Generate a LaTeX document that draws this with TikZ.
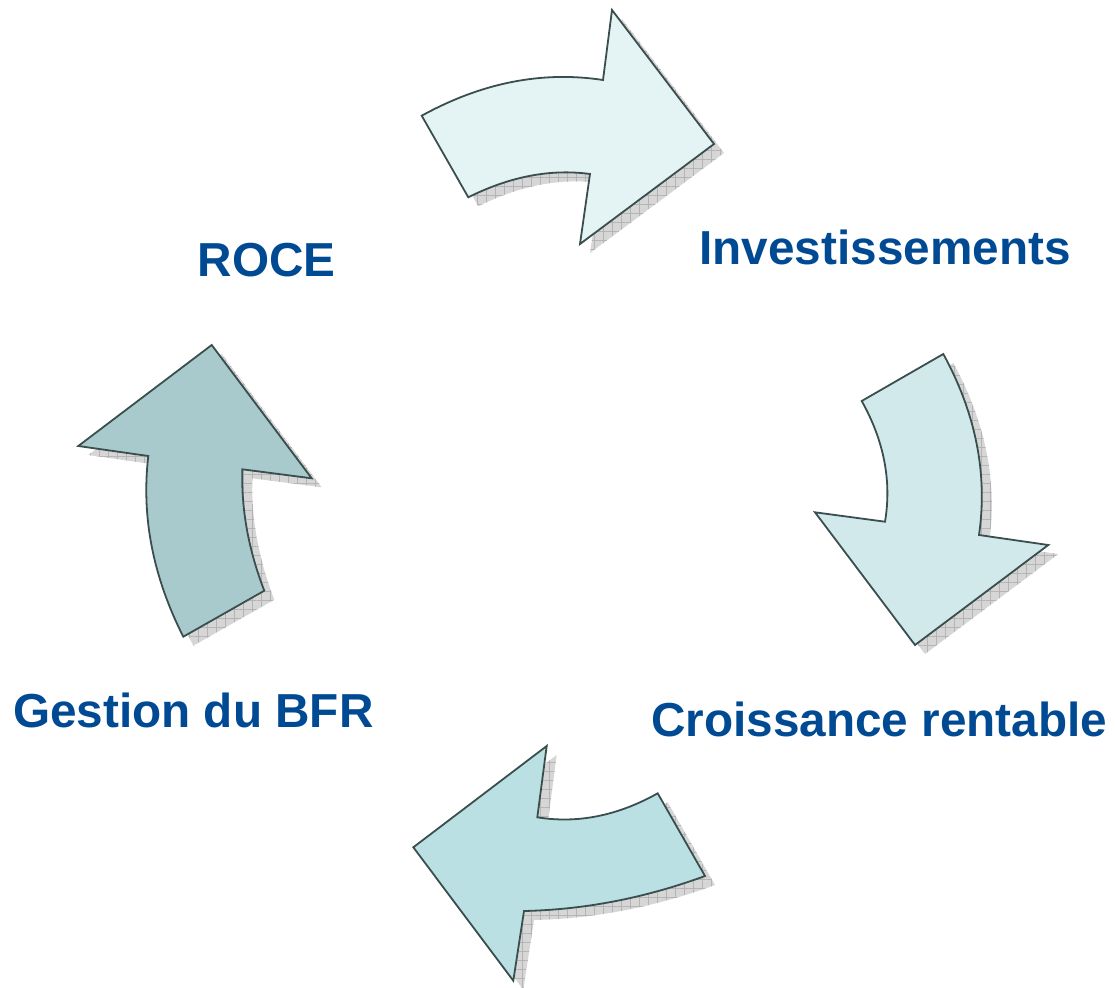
\documentclass[tikz,border=0pt]{standalone}
\usepackage{fontspec}
\setmainfont{Liberation Sans}
\usetikzlibrary{patterns.meta}

% Outlines of the four curved arrows (1 unit = 1pt, y grows downwards)
\newcommand\arrowRight{(421.7,115.7) -- (468.3,197.3)
  .. controls (510.1,176.4) and (550.7,168.7) .. (590,174)
  -- (580,244) -- (714,144) -- (612,10) -- (603,80)
  .. controls (542.3,70.7) and (481.9,82.6) .. (421.7,115.7) -- cycle}
\newcommand\arrowDown{(943.3,354) -- (861.7,401)
  .. controls (884.0,440.8) and (891.8,481.0) .. (885,521.7)
  -- (815,512.3) -- (915,645) -- (1048.3,545) -- (979,535)
  .. controls (987.8,474) and (975.9,413.7) .. (943.3,354) -- cycle}
\newcommand\arrowLeft{(657.7,793.3) -- (705,876)
  .. controls (644.7,898.1) and (584.3,909.7) .. (524,911)
  -- (513.3,980.7) -- (413.3,847.3) -- (546.7,746) -- (537.3,817.3)
  .. controls (577.4,823.8) and (617.6,815.8) .. (657.7,793.3) -- cycle}
\newcommand\arrowUp{(211.7,345) -- (311.7,478.3) -- (242.3,469.3)
  .. controls (241.2,509.8) and (248.6,550.2) .. (264.3,590.7) -- (183.3,636.7)
  .. controls (152.8,576.4) and (141.2,516.2) .. (148.3,456) -- (78.3,446) -- cycle}

\definecolor{outline}{RGB}{58,78,78}
\definecolor{shadowbase}{RGB}{214,214,214}
\definecolor{shadowgrid}{RGB}{180,180,180}
\definecolor{labelblue}{RGB}{0,74,148}
\definecolor{fillA}{RGB}{228,243,243}
\definecolor{fillB}{RGB}{209,233,235}
\definecolor{fillC}{RGB}{186,224,227}
\definecolor{fillD}{RGB}{168,202,205}

\tikzset{
  shadowfill/.style={fill=shadowbase, shift={(10,9)}},
  shadowgridh/.style={shift={(10,9)}, pattern={Lines[angle=0,distance=9pt,line width=0.5pt]}, pattern color=shadowgrid},
  shadowgridv/.style={shift={(10,9)}, pattern={Lines[angle=90,distance=9pt,line width=0.5pt]}, pattern color=shadowgrid},
  arrowshape/.style={draw=outline, line width=1.8pt, line join=miter},
  label/.style={anchor=base, text=labelblue, font=\fontsize{47.7}{52}\selectfont\bfseries, inner sep=0pt}
}

\newcommand\shadowed[2]{%
  \fill[shadowfill] #1;
  \fill[shadowgridh] #1;
  \fill[shadowgridv] #1;
  \filldraw[arrowshape, fill=#2] #1;
}

\begin{document}
\begin{tikzpicture}[x=1pt, y=-1pt]
  \useasboundingbox (0,0) rectangle (1115,987);

  \shadowed{\arrowRight}{fillA}
  \shadowed{\arrowDown}{fillB}
  \shadowed{\arrowLeft}{fillC}
  \shadowed{\arrowUp}{fillD}

  \node[label] (roce) at (266.7,276.7) {ROCE};
  \node[label] (invest) at (885,264.3) {Investissements};
  \node[label] (croissance) at (879.2,736.7) {Croissance rentable};
  \node[label] (bfr) at (193.3,727.7) {Gestion du BFR};
\end{tikzpicture}
\end{document}
